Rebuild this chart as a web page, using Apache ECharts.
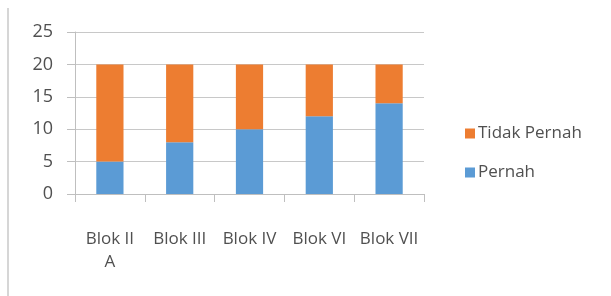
<!DOCTYPE html>
<html>
<head>
<meta charset="utf-8">
<script src="https://cdn.jsdelivr.net/npm/echarts@6/dist/echarts.min.js"></script>
<style>
  body { margin: 0; background: #fff; }
  #frame { position: absolute; left: 7px; top: 8px; width: 0; height: 288px; border-left: 2px solid #d6d6d6; }
  #myEcharts { position: absolute; left: 0; top: 0; width: 611px; height: 296px; }
</style>
</head>
<body>
<div id="myEcharts"></div>
<div id="frame"></div>
<script>
// kategori blok
const categories = ['Blok II A', 'Blok III', 'Blok IV', 'Blok VI', 'Blok VII'];
// nilai tiap seri
const pernah = [5, 8, 10, 12, 14];
const tidakPernah = [15, 12, 10, 8, 6];
const yTicks = [0, 5, 10, 15, 20, 25];

const textColor = '#505050';
const font = 'Open Sans';

let myChart = echarts.init(document.getElementById('myEcharts'));

let option = {
    animation: false,
    textStyle: { fontFamily: font },
    grid: { left: 75, right: 187, top: 32, bottom: 102 },
    legend: {
        orient: 'vertical',
        left: 460,
        top: 120,
        itemGap: 22,
        itemWidth: 10,
        itemHeight: 10,
        icon: 'rect',
        data: ['Tidak Pernah', 'Pernah'],
        textStyle: { color: textColor, fontSize: 17, fontFamily: font, padding: [0, 0, 0, -2] }
    },
    xAxis: {
        type: 'category',
        data: categories,
        axisLine: { lineStyle: { color: '#bfbfbf', width: 1 } },
        axisTick: { show: true, length: 8, lineStyle: { color: '#bfbfbf' } },
        axisLabel: {
            color: textColor,
            fontSize: 17,
            fontFamily: font,
            margin: 34,
            lineHeight: 23,
            interval: 0,
            hideOverlap: false,
            formatter: function (v) { return v.replace('II A', 'II\nA'); }
        }
    },
    yAxis: {
        type: 'value',
        min: yTicks[0],
        max: yTicks[yTicks.length - 1],
        interval: 5,
        axisLine: { show: true, lineStyle: { color: '#bfbfbf', width: 1 } },
        axisTick: { show: true, length: 8, lineStyle: { color: '#bfbfbf' } },
        axisLabel: { color: textColor, fontSize: 18, fontFamily: font, margin: 22 },
        splitLine: { lineStyle: { color: '#c8c8c8', width: 1 } }
    },
    series: [
        {
            name: 'Pernah',
            type: 'bar',
            stack: 'total',
            barWidth: '39%',
            data: pernah,
            itemStyle: { color: '#5b9bd5' }
        },
        {
            name: 'Tidak Pernah',
            type: 'bar',
            stack: 'total',
            barWidth: '39%',
            data: tidakPernah,
            itemStyle: { color: '#ed7d31' }
        }
    ]
};

option && myChart.setOption(option);
</script>
</body>
</html>
